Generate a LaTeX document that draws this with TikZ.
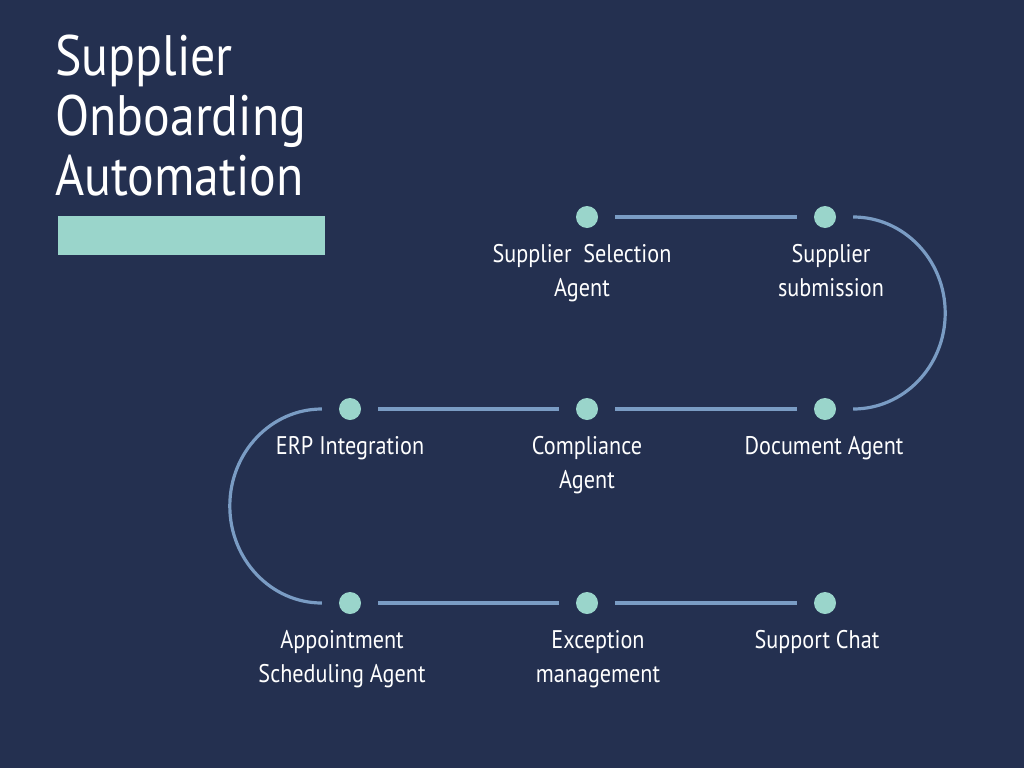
\documentclass[tikz,border=0pt]{standalone}
\usepackage{fontspec}
\setmainfont{PT Sans}
\newfontfamily\titlefont[FakeStretch=0.875]{PT Sans}
\newfontfamily\labelfont[FakeStretch=0.87]{PT Sans}
\definecolor{bg}{RGB}{36,48,80}
\definecolor{teal}{RGB}{154,213,203}
\definecolor{path}{RGB}{122,156,196}
\begin{document}
\begin{tikzpicture}[x=1pt,y=-1pt,
  dot/.style={circle,fill=teal,minimum size=22pt,inner sep=0pt},
  lbl/.style={text=white,font=\labelfont\fontsize{25.5}{34}\selectfont,align=center,anchor=north,inner sep=0pt},
  conn/.style={draw=path,line width=3.2pt,shorten <=17pt,shorten >=17pt},
  arcline/.style={draw=path,line width=3.2pt}]
\fill[bg] (0,0) rectangle (1024,768);
\useasboundingbox (0,0) rectangle (1024,768);
% title
\node[anchor=north west,inner sep=0pt,text=white,align=left,font=\titlefont\fontsize{57}{60}\selectfont] (title) at (55,35) {Supplier\\Onboarding\\Automation};
\fill[teal] (58,216) rectangle (325,255);
% dots
\node[dot] (s1) at (587,217) {};
\node[dot] (s2) at (825,217) {};
\node[dot] (d3) at (825,409) {};
\node[dot] (c2) at (587,409) {};
\node[dot] (e1) at (350,409) {};
\node[dot] (a1) at (350,603) {};
\node[dot] (x2) at (587,603) {};
\node[dot] (p3) at (825,603) {};
% connectors
\draw[conn] (s1) -- (s2);
\draw[conn] (d3) -- (c2);
\draw[conn] (c2) -- (e1);
\draw[conn] (a1) -- (x2);
\draw[conn] (x2) -- (p3);
\draw[arcline] ([xshift=17pt]s2.east) arc[start angle=-90,end angle=90,x radius=92,y radius=96];
\draw[arcline] ([xshift=-17pt]e1.west) arc[start angle=-90,end angle=-270,x radius=92,y radius=97];
% labels
\node[lbl] (ls1) at (582,244) {Supplier\ \ Selection\\Agent};
\node[lbl] (ls2) at (831,244) {Supplier\\submission};
\node[lbl] (ld3) at (824,436) {Document Agent};
\node[lbl] (lc2) at (587,436) {Compliance\\Agent};
\node[lbl] (le1) at (350,436) {ERP Integration};
\node[lbl] (la1) at (342,630) {Appointment\\Scheduling Agent};
\node[lbl] (lx2) at (598,630) {Exception\\management};
\node[lbl] (lp3) at (817,630) {Support Chat};
\end{tikzpicture}
\end{document}
